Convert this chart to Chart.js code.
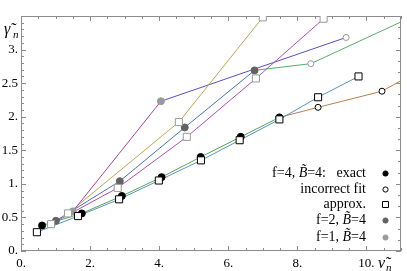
<!DOCTYPE html>
<html>
<head>
<meta charset="utf-8">
<script src="https://cdn.jsdelivr.net/npm/chart.js@4"></script>
<style>
html, body { margin: 0; padding: 0; background: #fff; }
#wrap { width: 407px; height: 271px; }
</style>
</head>
<body>
<div id="wrap"><canvas id="myChart"></canvas></div>
<script>
// f=4, B=4 : exact points, approx. points, incorrect fit
const f4ExactX = [0.61, 1.76, 2.92, 4.07, 5.20, 6.36, 7.48];
const f4ExactY = [0.38, 0.56, 0.82, 1.10, 1.40, 1.70, 1.99];
const f4ApproxX = [0.46, 1.65, 2.84, 3.99, 5.21, 6.33, 7.48, 8.60, 9.77];
const f4ApproxY = [0.28, 0.52, 0.77, 1.05, 1.35, 1.65, 1.96, 2.29, 2.60];
const f4FitX = [8.60, 10.45, 12.3];
const f4FitY = [2.14, 2.38, 2.91];

// f=2, B=4
const f2ExactX = [1.01, 2.86, 4.74, 6.76];
const f2ExactY = [0.45, 1.04, 1.84, 2.69];
const f2ApproxX = [0.87, 2.80, 4.80, 6.80, 8.76];
const f2ApproxY = [0.40, 0.94, 1.70, 2.57, 3.46];
const f2FitX = [8.39, 12.0];
const f2FitY = [2.79, 3.65];

// f=1, B=4
const f1ExactX = [1.50, 4.05];
const f1ExactY = [0.59, 2.23];
const f1ApproxX = [1.36, 4.57, 7.00];
const f1ApproxY = [0.56, 1.92, 3.48];
const f1FitX = [9.41];
const f1FitY = [3.18];

// ticks
const xTicks = [0, 2, 4, 6, 8, 10];
const xLabels = ['0.', '2.', '4.', '6.', '8.', '10.'];
const yTicks = [0, 0.5, 1, 1.5, 2, 2.5, 3];
const yLabels = ['0.', '0.5', '1.', '1.5', '2.', '2.5', '3.'];

// legend
const legendLabels = ['f=4, B\u0303=4:   exact', 'incorrect fit', 'approx.', 'f=2, B\u0303=4', 'f=1, B\u0303=4'];

const pts = (xs, ys) => xs.map((x, i) => ({ x: x, y: ys[i] }));
const lastPt = (xs, ys) => [{ x: xs[xs.length - 1], y: ys[ys.length - 1] }];

function line(data, color) {
  return { data: data, showLine: true, borderColor: color, borderWidth: 1,
    pointRadius: 0, pointHoverRadius: 0, order: 2 };
}
function marks(data, style, radius, fill, stroke) {
  return { data: data, showLine: false, pointStyle: style, pointRadius: radius,
    pointBackgroundColor: fill, pointBorderColor: stroke, pointBorderWidth: 1, order: 1 };
}

const datasets = [
  line(pts(f4ExactX, f4ExactY), '#5ba55a'),
  line(pts(f4ApproxX, f4ApproxY), '#5b93c3'),
  line(lastPt(f4ExactX, f4ExactY).concat(pts(f4FitX, f4FitY)), '#b5804f'),
  line(pts(f2ExactX, f2ExactY), '#4a72ad'),
  line(pts(f2ApproxX, f2ApproxY), '#b14fb0'),
  line(lastPt(f2ExactX, f2ExactY).concat(pts(f2FitX, f2FitY)), '#5aaa6a'),
  line(pts(f1ExactX, f1ExactY), '#a8449a'),
  line(pts(f1ApproxX, f1ApproxY), '#bba45e'),
  line(lastPt(f1ExactX, f1ExactY).concat(pts(f1FitX, f1FitY)), '#5a50b8'),

  marks(pts(f1ApproxX, f1ApproxY), 'rect', 5, '#fff', '#999'),
  marks(pts(f2ApproxX, f2ApproxY), 'rect', 5, '#fff', '#999'),
  marks(pts(f4ApproxX, f4ApproxY), 'rect', 5, '#fff', '#000'),
  marks(pts(f1FitX, f1FitY), 'circle', 3, '#fff', '#999'),
  marks(pts(f2FitX, f2FitY), 'circle', 3, '#fff', '#999'),
  marks(pts(f4FitX, f4FitY), 'circle', 3, '#fff', '#000'),
  marks(pts(f1ExactX, f1ExactY), 'circle', 3.5, '#9a9a9a', '#9a9a9a'),
  marks(pts(f2ExactX, f2ExactY), 'circle', 3.5, '#626262', '#626262'),
  marks(pts(f4ExactX, f4ExactY), 'circle', 3.5, '#000', '#000'),
];

const serif = "'Liberation Serif', 'DejaVu Serif', serif";

// draws text right-aligned, the B~ part in italic
function richRight(ctx, text, xr, y, size) {
  const parts = text.split(/(B\u0303)/).filter(s => s.length);
  const fonts = parts.map(p => (p === 'B\u0303' ? 'italic ' : '') + size + 'px ' + serif);
  let w = 0;
  parts.forEach((p, i) => { ctx.font = fonts[i]; w += ctx.measureText(p).width; });
  let x = xr - w;
  parts.forEach((p, i) => { ctx.font = fonts[i]; ctx.fillText(p, x, y); x += ctx.measureText(p).width; });
}

const framePlugin = {
  id: 'frame',
  beforeDatasetsDraw(chart) {
    const { ctx, chartArea: a, scales: { x, y } } = chart;
    ctx.save();
    ctx.strokeStyle = '#8c8c8c';
    ctx.lineWidth = 1;
    ctx.strokeRect(a.left + 0.5, a.top + 0.5, a.right - a.left - 1, a.bottom - a.top - 1);
    ctx.beginPath();
    for (let i = 0; i <= 22; i++) {
      const v = i / 2;
      const px = Math.round(x.getPixelForValue(v)) + 0.5;
      const len = i % 4 === 0 ? 5 : 3;
      ctx.moveTo(px, a.bottom); ctx.lineTo(px, a.bottom - len);
      ctx.moveTo(px, a.top); ctx.lineTo(px, a.top + len);
    }
    for (let i = 0; i <= 35; i++) {
      const py = Math.round(y.getPixelForValue(i / 10)) + 0.5;
      const len = i % 5 === 0 ? 5 : 3;
      ctx.moveTo(a.left, py); ctx.lineTo(a.left + len, py);
    }
    for (let i = 0; i <= 21; i++) {
      const py = Math.round(y.getPixelForValue(i / 6)) + 0.5;
      const len = i % 3 === 0 ? 5 : 3;
      ctx.moveTo(a.right, py); ctx.lineTo(a.right - len, py);
    }
    ctx.stroke();
    ctx.restore();
  },
  afterDraw(chart) {
    const { ctx } = chart;
    ctx.save();
    ctx.fillStyle = '#000';
    ctx.textBaseline = 'middle';
    const rows = [173, 189, 204, 220, 237];
    const styles = [
      { s: 'circle', fill: '#000', stroke: '#000' },
      { s: 'circle', fill: '#fff', stroke: '#000' },
      { s: 'rect', fill: '#fff', stroke: '#000' },
      { s: 'circle', fill: '#626262', stroke: '#626262' },
      { s: 'circle', fill: '#9a9a9a', stroke: '#9a9a9a' },
    ];
    legendLabels.forEach((t, i) => {
      ctx.fillStyle = '#000';
      richRight(ctx, t, 366, rows[i], 14);
      const st = styles[i];
      ctx.fillStyle = st.fill;
      ctx.strokeStyle = st.stroke;
      ctx.lineWidth = 1;
      ctx.beginPath();
      if (st.s === 'rect') ctx.rect(382.5, rows[i] - 2.5, 6, 6);
      else ctx.arc(385.5, rows[i] + 0.5, 2.6, 0, Math.PI * 2);
      ctx.fill(); ctx.stroke();
    });
    // axis labels
    ctx.fillStyle = '#000';
    ctx.textBaseline = 'alphabetic';
    ctx.font = 'italic 16px ' + serif;
    ctx.fillText('\u03b3\u0303', 4, 34);
    ctx.font = 'italic 11px ' + serif;
    ctx.fillText('n', 13, 38);
    ctx.font = 'italic 16px ' + serif;
    ctx.fillText('\u03bd\u0303', 378, 268);
    ctx.font = 'italic 11px ' + serif;
    ctx.fillText('n', 386, 271);
    ctx.restore();
  }
};

new Chart(document.getElementById('myChart'), {
  type: 'scatter',
  data: { datasets: datasets },
  options: {
    responsive: true,
    maintainAspectRatio: false,
    animation: false,
    layout: { padding: { left: 0, right: 5, top: 16, bottom: 0 } },
    plugins: { legend: { display: false }, tooltip: { enabled: false } },
    scales: {
      x: {
        type: 'linear', min: 0, max: 11,
        grid: { display: false, drawTicks: false },
        border: { display: false },
        afterBuildTicks: s => { s.ticks = xTicks.map(v => ({ value: v })); },
        afterFit: s => { s.height = 20; },
        ticks: {
          autoSkip: false, maxRotation: 0, padding: 5, color: '#000',
          font: { family: serif, size: 13 },
          callback: v => xLabels[xTicks.indexOf(v)] ?? ''
        }
      },
      y: {
        type: 'linear', min: 0, max: 3.5,
        grid: { display: false, drawTicks: false },
        border: { display: false },
        afterBuildTicks: s => { s.ticks = yTicks.map(v => ({ value: v })); },
        afterFit: s => { s.width = 21; },
        ticks: {
          autoSkip: false, padding: 3, color: '#000',
          font: { family: serif, size: 13 },
          callback: v => yLabels[yTicks.indexOf(v)] ?? ''
        }
      }
    }
  },
  plugins: [framePlugin]
});
</script>
</body>
</html>
